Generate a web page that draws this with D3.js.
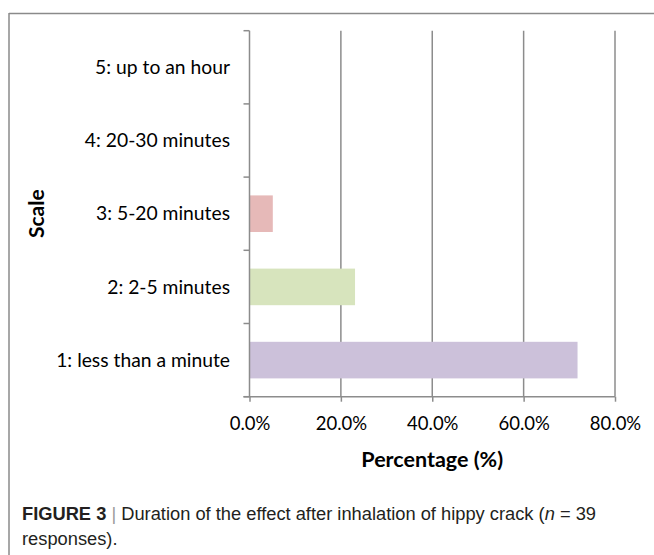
<!DOCTYPE html>
<html>
<head>
<meta charset="utf-8">
<script src="https://cdn.jsdelivr.net/npm/d3@7"></script>
<style>
  html, body { margin: 0; padding: 0; background: #fff; }
  svg { display: block; }
</style>
</head>
<body>
<svg id="chart" width="654" height="555"></svg>
<script>
// Duration categories, bottom to top
const categories = [
  "1: less than a minute",
  "2: 2-5 minutes",
  "3: 5-20 minutes",
  "4: 20-30 minutes",
  "5: up to an hour"
];
// Share of responses (n = 39): 28, 9, 2, 0, 0
const percentages = [71.8, 23.1, 5.1, 0, 0];
const barColors = ["#CCC1DA", "#D7E4BD", "#E6B9B8", "#B9CDE5", "#FCD5B5"];
const xTicks = [0, 20, 40, 60, 80];

const svg = d3.select("#chart");
const W = 654, H = 555;

// Figure frame
svg.append("line").attr("x1", 9).attr("x2", W).attr("y1", 13.5).attr("y2", 13.5)
  .attr("stroke", "#8a8a8a").attr("stroke-width", 1.5);
svg.append("line").attr("x1", 9).attr("x2", 9).attr("y1", 13).attr("y2", H)
  .attr("stroke", "#8a8a8a").attr("stroke-width", 1.5);

const plot = { left: 249.5, right: 615, top: 30.7, bottom: 396.7 };
const axisColor = "#8c8c8c";
const labelFont = "Lato, 'Open Sans', sans-serif";

const x = d3.scaleLinear().domain([0, 80]).range([plot.left, plot.right]);
const yBand = d3.scaleBand()
  .domain(categories)
  .range([plot.bottom, plot.top])
  .paddingInner(0).paddingOuter(0);
const barPad = 0.25; // fraction of band left empty on each side of a bar

// Vertical gridlines
svg.append("g").selectAll("line")
  .data(xTicks.filter(t => t > 0))
  .join("line")
  .attr("x1", d => x(d)).attr("x2", d => x(d))
  .attr("y1", plot.top).attr("y2", plot.bottom)
  .attr("stroke", axisColor).attr("stroke-width", 1.5);

// Bars
svg.append("g").selectAll("rect")
  .data(categories.map((c, i) => ({ c, v: percentages[i], color: barColors[i] })))
  .join("rect")
  .attr("x", x(0))
  .attr("y", d => yBand(d.c) + yBand.bandwidth() * barPad)
  .attr("width", d => x(d.v) - x(0))
  .attr("height", yBand.bandwidth() * (1 - 2 * barPad))
  .attr("fill", d => d.color);

// X axis
const xAxis = d3.axisBottom(x)
  .tickValues(xTicks)
  .tickSize(5)
  .tickPadding(15)
  .tickFormat(d => d3.format(".1f")(d) + "%");
const gx = svg.append("g").attr("transform", `translate(0,${plot.bottom})`).call(xAxis);
gx.select(".domain").remove();
gx.append("line").attr("x1", plot.left - 6).attr("x2", plot.right)
  .attr("y1", 0).attr("y2", 0).attr("stroke", axisColor).attr("stroke-width", 1.5);
gx.selectAll(".tick line").attr("stroke", axisColor).attr("stroke-width", 1.5);
gx.selectAll(".tick text")
  .attr("font-family", labelFont).attr("font-size", 18.5).attr("fill", "#000");

// Y axis: line with ticks at band boundaries
const gy = svg.append("g");
gy.append("line").attr("x1", plot.left).attr("x2", plot.left)
  .attr("y1", plot.top).attr("y2", plot.bottom)
  .attr("stroke", axisColor).attr("stroke-width", 1.5);
const boundaries = categories.map(c => yBand(c)).concat([plot.bottom]);
gy.selectAll("line.tick")
  .data(boundaries)
  .join("line").attr("class", "tick")
  .attr("x1", plot.left - 6).attr("x2", plot.left)
  .attr("y1", d => d).attr("y2", d => d)
  .attr("stroke", axisColor).attr("stroke-width", 1.5);
gy.selectAll("text")
  .data(categories)
  .join("text")
  .attr("x", 230)
  .attr("y", d => yBand(d) + yBand.bandwidth() / 2)
  .attr("dy", "0.35em")
  .attr("text-anchor", "end")
  .attr("font-family", labelFont).attr("font-size", 19.3)
  .attr("fill", "#000")
  .text(d => d);

// Axis titles
svg.append("text")
  .attr("x", (plot.left + plot.right) / 2).attr("y", 467)
  .attr("text-anchor", "middle")
  .attr("font-family", labelFont).attr("font-weight", "bold").attr("font-size", 21.5)
  .attr("fill", "#000")
  .text("Percentage (%)");
svg.append("text")
  .attr("transform", `translate(44,${(plot.top + plot.bottom) / 2}) rotate(-90)`)
  .attr("text-anchor", "middle")
  .attr("font-family", labelFont).attr("font-weight", "bold").attr("font-size", 21)
  .attr("fill", "#000")
  .text("Scale");

// Caption
const capFont = "'Liberation Sans Narrow', 'Arial Narrow', 'Liberation Sans', sans-serif";
const cap1 = svg.append("text")
  .attr("x", 22).attr("y", 520)
  .attr("font-family", capFont).attr("font-size", 18.3).attr("fill", "#231f20");
cap1.append("tspan").attr("font-weight", "bold").text("FIGURE 3");
cap1.append("tspan").attr("fill", "#9a9a9a").text(" | ");
cap1.append("tspan").text("Duration of the effect after inhalation of hippy crack (");
cap1.append("tspan").attr("font-style", "italic").text("n");
cap1.append("tspan").text(" = 39");
svg.append("text")
  .attr("x", 22).attr("y", 545)
  .attr("font-family", capFont).attr("font-size", 18.3).attr("fill", "#231f20")
  .text("responses).");
</script>
</body>
</html>
